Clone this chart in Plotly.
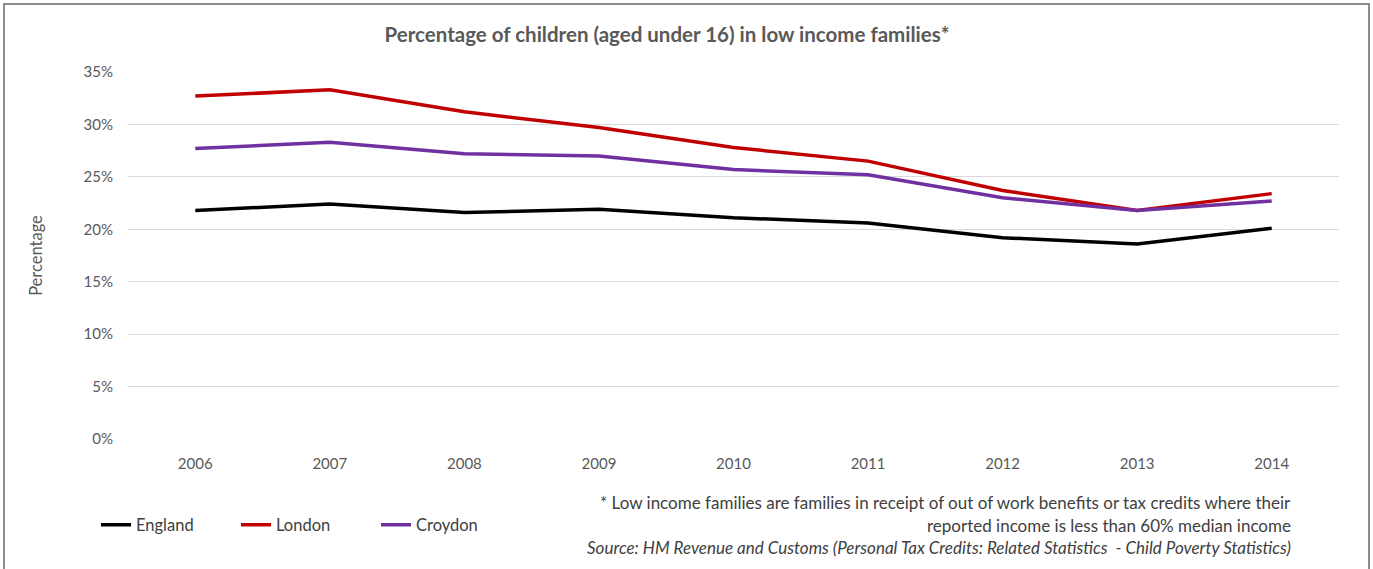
import plotly.graph_objects as go

years = ["2006", "2007", "2008", "2009", "2010", "2011", "2012", "2013", "2014"]
england = [21.8, 22.4, 21.6, 21.9, 21.1, 20.6, 19.2, 18.6, 20.1]
london = [32.7, 33.3, 31.2, 29.7, 27.8, 26.5, 23.7, 21.8, 23.4]
croydon = [27.7, 28.3, 27.2, 27.0, 25.7, 25.2, 23.0, 21.8, 22.7]

series = [("England", england, "#000000"), ("London", london, "#C00000"), ("Croydon", croydon, "#7030A0")]

W, H = 1373, 569
L, R, T, B = 128, 34, 72, 130
pw, ph = W - L - R, H - T - B

def px(x):
    return (x - L) / pw

def py(y):
    return (H - B - y) / ph

fig = go.Figure()
for name, vals, col in series:
    fig.add_trace(go.Scatter(x=years, y=vals, name=name, mode="lines",
                             line=dict(color=col, width=3.5)))

font = "Lato, Calibri, Carlito, sans-serif"
fig.update_layout(
    width=W, height=H,
    margin=dict(l=L, r=R, t=T, b=B),
    paper_bgcolor="white", plot_bgcolor="white",
    font=dict(family=font, size=15, color="#595959"),
    title=dict(text="<b>Percentage of children (aged under 16) in low income families*</b>",
               x=667 / W, xanchor="center", y=1 - 35 / H, yanchor="middle",
               font=dict(size=20.5, color="#595959")),
    xaxis=dict(type="category", range=[-0.5, 8.5], showgrid=False, showline=False, ticks="",
               tickfont=dict(size=15, color="#595959"), ticklabelstandoff=14),
    yaxis=dict(range=[0, 35], dtick=5, tickformat=".0f", ticksuffix="%",
               gridcolor="#D9D9D9", gridwidth=1, zeroline=False, showline=False,
               tickfont=dict(size=15, color="#595959"), ticklabelstandoff=14,
               title=dict(text="Percentage", font=dict(size=16.5, color="#595959"), standoff=36)),
    showlegend=True,
    legend=dict(orientation="h", x=px(96), xanchor="left", y=py(525), yanchor="middle",
                entrywidth=95, entrywidthmode="pixels",
                font=dict(size=16.5, color="#404040"), bgcolor="rgba(0,0,0,0)"),
    shapes=[dict(type="rect", xref="paper", yref="paper",
                 x0=px(4), x1=px(1369), y0=py(600), y1=py(4),
                 line=dict(color="#8C8C8C", width=2), fillcolor="rgba(0,0,0,0)", layer="below")],
    annotations=[
        dict(text="* Low income families are families in receipt of out of work benefits or tax credits where their",
             xref="paper", yref="paper", x=px(1293), y=py(503), xanchor="right", yanchor="middle",
             showarrow=False, font=dict(size=17, color="#404040")),
        dict(text="reported income is less than 60% median income",
             xref="paper", yref="paper", x=px(1293), y=py(525), xanchor="right", yanchor="middle",
             showarrow=False, font=dict(size=17, color="#404040")),
        dict(text="<i>Source: HM Revenue and Customs (Personal Tax Credits: Related Statistics  - Child Poverty Statistics)</i>",
             xref="paper", yref="paper", x=px(1293), y=py(547), xanchor="right", yanchor="middle",
             showarrow=False, font=dict(size=17, color="#404040")),
    ],
)
fig.write_html("out.html")
